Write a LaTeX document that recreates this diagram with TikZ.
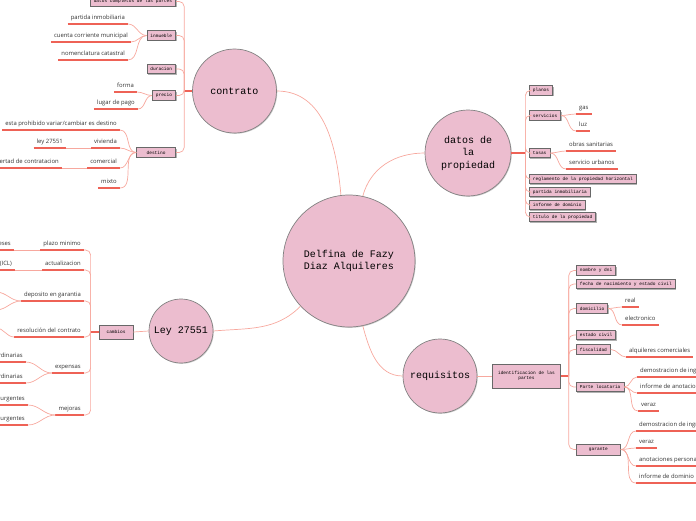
\documentclass[tikz,border=0pt]{standalone}
\usepackage{fontspec}
\usetikzlibrary{shadows}
\newfontfamily\hubfont{Liberation Mono}
\newfontfamily\leaffont{Open Sans}
\definecolor{mappink}{RGB}{236,189,207}
\definecolor{rimgray}{RGB}{130,130,130}
\definecolor{linkpink}{RGB}{247,168,158}
\definecolor{linkred}{RGB}{238,98,86}

\begin{document}
\begin{tikzpicture}[x=1pt, y=1pt,
  hub/.style={circle, draw=rimgray, fill=mappink, line width=0.7pt, align=center, inner sep=0pt,
    font=\hubfont\fontsize{10}{12.5}\selectfont,
    drop shadow={shadow xshift=0.8pt, shadow yshift=-0.8pt, fill=black, opacity=0.2}},
  tag/.style={draw=rimgray!80!black, fill=mappink, line width=0.8pt,
    font=\hubfont\fontsize{4.5}{5.5}\selectfont, inner xsep=3.5pt, inner ysep=0pt, minimum height=9.5pt,
    drop shadow={shadow xshift=1pt, shadow yshift=-1pt, fill=black, opacity=0.3}},
  uline/.style={draw=linkred, line width=1.5pt},
  leaf/.style={font=\leaffont\fontsize{5.9}{6.5}\selectfont, text=black!80, inner xsep=3pt, inner ysep=2.8pt,
    text height=4.3pt, text depth=1.5pt,
    append after command={(\tikzlastnode.south west) edge[uline] (\tikzlastnode.south east)}},
  lleaf/.style={leaf, anchor=south east},
  rleaf/.style={leaf, anchor=south west},
  link/.style={draw=linkpink, line width=0.7pt},
  fork/.style={link, rounded corners=5pt},
  stub/.style={draw=linkred, line width=1.5pt},
]
\useasboundingbox (0,0) rectangle (696,-520);

% Main topics
\node[hub, minimum size=132pt] (delfina) at (349,-261) {Delfina de Fazy\\ Diaz Alquileres};
\node[hub, minimum size=84pt] (contrato) at (234.5,-91) {contrato};
\node[hub, minimum size=86pt] (datos) at (468,-153) {datos de\\la\\propiedad};
\node[hub, minimum size=64pt] (ley) at (181,-331) {Ley 27551};
\node[hub, minimum size=74pt] (requisitos) at (440,-376) {requisitos};

\draw[link] (contrato.east) to[out=0,in=95] (delfina.97);
\draw[link] (datos.west) to[out=180,in=75] (delfina.78);
\draw[link] (ley.east) to[out=5,in=225] (delfina.223);
\draw[link] (requisitos.west) to[out=180,in=-75] (delfina.-78);

% contrato
\node[tag, anchor=east] (partes) at (176,-1.5) {datos completos de las partes};
\node[tag, anchor=east] (inmueble) at (176,-35.5) {inmueble};
\node[tag, anchor=east] (duracion) at (176,-69) {duracion};
\node[tag, anchor=east] (precio) at (176,-95.5) {precio};
\node[tag, anchor=east, minimum width=39pt] (destino) at (176,-152.5) {destino};
\draw[stub] (contrato.west) -- ++(-8,0);
\foreach \t in {partes,inmueble,duracion,precio,destino}
  \draw[fork] (contrato.west) ++(-8,0) |- (\t.east);

\node[lleaf] (partida) at (128,-24) {partida inmobiliaria};
\node[lleaf] (cuenta) at (131,-42) {cuenta corriente municipal};
\node[lleaf] (nomencl) at (128,-60) {nomenclatura catastral};
\foreach \t in {partida,cuenta,nomencl}
  \draw[link] (inmueble.west) to[out=180,in=0] (\t.south east);

\node[lleaf] (forma) at (137,-92) {forma};
\node[lleaf] (lugar) at (138,-109) {lugar de pago};
\foreach \t in {forma,lugar}
  \draw[link] (precio.west) to[out=180,in=0] (\t.south east);

\node[lleaf] (prohibido) at (120,-130) {esta prohibido variar/cambiar es destino};
\node[lleaf] (vivienda) at (120,-148) {vivienda};
\node[lleaf] (comercial) at (120,-168) {comercial};
\node[lleaf] (mixto) at (120,-188) {mixto};
\foreach \t in {prohibido,vivienda,comercial,mixto}
  \draw[link] (destino.west) to[out=180,in=0] (\t.south east);
\node[lleaf] (leyviv) at (66,-148) {ley 27551};
\node[lleaf] (libertad) at (62,-168) {libertad de contratacion};
\draw[link] (vivienda.south west) -- (leyviv.south east);
\draw[link] (comercial.south west) -- (libertad.south east);

% Ley 27551
\node[tag, minimum width=34pt, minimum height=14pt] (cambios) at (116,-332) {cambios};
\draw[link] (ley.west) -- (cambios.east);
\draw[stub] (cambios.west) -- ++(-8,0);
\node[lleaf] (plazo) at (84,-250) {plazo minimo};
\node[lleaf] (actual) at (84,-270) {actualizacion};
\node[lleaf] (deposito) at (84,-301) {deposito en garantia};
\node[lleaf] (resol) at (84,-337) {resolución del contrato};
\node[lleaf] (expensas) at (84,-373) {expensas};
\node[lleaf] (mejoras) at (84,-415) {mejoras};
\foreach \t in {plazo,actual,deposito,resol,expensas,mejoras}
  \draw[fork] (cambios.west) ++(-8,0) |- (\t.south east);

\node[lleaf] (meses) at (14,-250) {meses};
\node[lleaf] (icl) at (15,-270) {(ICL)};
\draw[link] (plazo.south west) -- (meses.south east);
\draw[link] (actual.south west) -- (icl.south east);
\coordinate (depA) at (-4,-292);
\coordinate (depB) at (-4,-310);
\coordinate (resA) at (-4,-328);
\draw[link] (deposito.south west) to[out=180,in=0] (depA);
\draw[link] (deposito.south west) to[out=180,in=0] (depB);
\draw[link] (resol.south west) to[out=180,in=0] (resA);
\node[lleaf] (ordin) at (26,-362) {ordinarias};
\node[lleaf] (extra) at (26,-383) {extraordinarias};
\node[lleaf] (urg) at (28,-405) {urgentes};
\node[lleaf] (nourg) at (28,-425) {no urgentes};
\foreach \t in {ordin,extra}
  \draw[link] (expensas.south west) to[out=180,in=0] (\t.south east);
\foreach \t in {urg,nourg}
  \draw[link] (mejoras.south west) to[out=180,in=0] (\t.south east);

% datos de la propiedad
\draw[stub] (datos.east) -- ++(14,0);
\node[tag, anchor=west] (planos) at (529,-90.5) {planos};
\node[tag, anchor=west] (servicios) at (529,-115.5) {servicios};
\node[tag, anchor=west] (tasas) at (529,-153) {tasas};
\node[tag, anchor=west] (reglamento) at (529,-179) {reglamento de la propiedad horizontal};
\node[tag, anchor=west] (partidaprop) at (529,-192) {partida inmobiliaria};
\node[tag, anchor=west] (informe) at (529,-205) {informe de dominio};
\node[tag, anchor=west] (titulo) at (529,-217) {titulo de la propiedad};
\foreach \t in {planos,servicios,tasas,reglamento,partidaprop,informe,titulo}
  \draw[fork] (datos.east) ++(14,0) |- (\t.west);

\node[rleaf] (gas) at (576,-114) {gas};
\node[rleaf] (luz) at (576,-131) {luz};
\foreach \t in {gas,luz}
  \draw[link] (servicios.east) to[out=0,in=180] (\t.south west);
\node[rleaf] (obras) at (566,-151) {obras sanitarias};
\node[rleaf] (urbanos) at (566,-169) {servicio urbanos};
\foreach \t in {obras,urbanos}
  \draw[link] (tasas.east) to[out=0,in=180] (\t.south west);

% requisitos
\node[tag, anchor=west, minimum width=68pt, minimum height=24pt, align=center] (ident) at (492,-376) {identificacion de las\\partes};
\draw[link] (requisitos.east) -- (ident.west);
\draw[stub] (ident.east) -- ++(8,0);
\node[tag, anchor=west] (nombre) at (576,-270.5) {nombre y dni};
\node[tag, anchor=west] (fecha) at (576,-284) {fecha de nacimiento y estado civil};
\node[tag, anchor=west] (domicilio) at (576,-308.5) {domicilio};
\node[tag, anchor=west] (estado) at (576,-335) {estado civil};
\node[tag, anchor=west] (fiscal) at (576,-349.5) {fiscalidad};
\node[tag, anchor=west] (locataria) at (576,-387) {Parte locataria};
\node[tag, anchor=west, minimum width=44pt, minimum height=11pt] (garante) at (576,-449.5) {garante};
\foreach \t in {nombre,fecha,domicilio,estado,fiscal,locataria,garante}
  \draw[fork] (ident.east) ++(8,0) |- (\t.west);

\node[rleaf] (real) at (622,-307) {real};
\node[rleaf] (electr) at (622,-325) {electronico};
\foreach \t in {real,electr}
  \draw[link] (domicilio.east) to[out=0,in=180] (\t.south west);
\node[rleaf] (alqcom) at (626,-357) {alquileres comerciales};
\draw[link] (fiscal.east) to[out=0,in=180] (alqcom.south west);

\node[rleaf] (ingloc) at (637,-377) {demostracion de ingresos};
\node[rleaf] (anotloc) at (637,-393) {informe de anotaciones personales};
\node[rleaf] (verazloc) at (638,-411) {veraz};
\foreach \t in {ingloc,anotloc,verazloc}
  \draw[link] (locataria.east) to[out=0,in=180] (\t.south west);

\node[rleaf] (inggar) at (636,-431) {demostracion de ingresos};
\node[rleaf] (verazgar) at (636,-448) {veraz};
\node[rleaf] (anotgar) at (636,-466) {anotaciones personales};
\node[rleaf] (domgar) at (636,-483) {informe de dominio};
\foreach \t in {inggar,verazgar,anotgar,domgar}
  \draw[link] (garante.east) to[out=0,in=180] (\t.south west);

\end{tikzpicture}
\end{document}
